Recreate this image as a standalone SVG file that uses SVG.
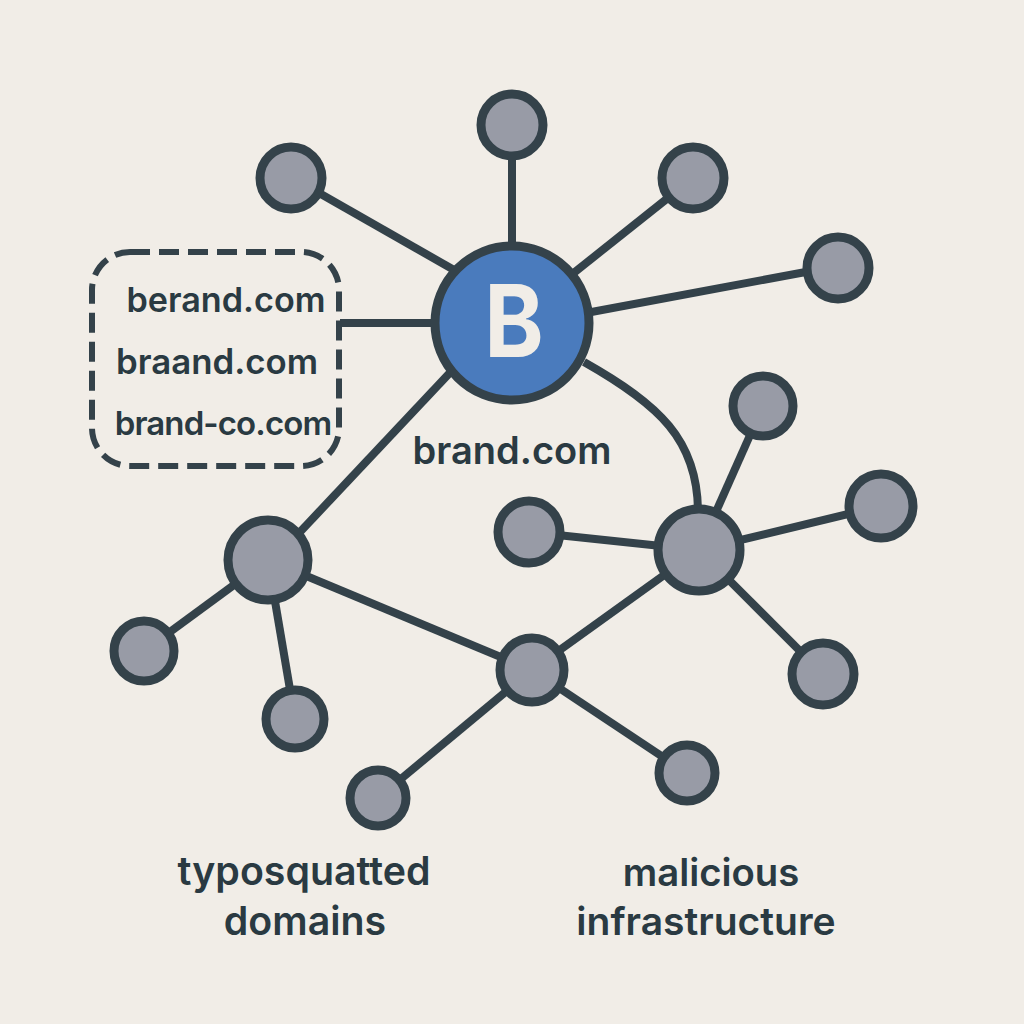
<svg xmlns="http://www.w3.org/2000/svg" width="1024" height="1024" viewBox="0 0 1024 1024">
<style>
.e{fill:none;stroke:#34424a;stroke-width:8}
.n{fill:#989ba6;stroke:#34424a;stroke-width:9}
text{font-family:"Inter","Liberation Sans",sans-serif;font-weight:600;fill:#2a3a42;text-anchor:middle}
.b{font-size:38px}
</style>
<rect width="1024" height="1024" fill="#f1ede7"/>
<g id="connectors">
<path class="e" d="M512 320V125"/>
<path class="e" d="M512 303L291 177"/>
<path class="e" d="M512 322L693 178"/>
<path class="e" d="M570 316L838 266"/>
<path class="e" d="M512 323H340"/>
<path class="e" d="M460 362L268 566"/>
<path class="e" d="M584 362C660 405 697 440 698 510"/>
<path class="e" d="M699 550L763 406"/>
<path class="e" d="M699 550L881 506"/>
<path class="e" d="M699 550L529 532"/>
<path class="e" d="M699 550L823 674"/>
<path class="e" d="M699 550L532 670"/>
<path class="e" d="M268 560L532 670"/>
<path class="e" d="M268 560L144 651"/>
<path class="e" d="M268 560L295 719"/>
<path class="e" d="M532 670L378 798"/>
<path class="e" d="M532 670L687 773"/>
</g>
<g id="typo-box">
<rect x="92" y="252" width="247" height="214" rx="38" fill="#f1ede7" stroke="#34424a" stroke-width="6" stroke-dasharray="20 9"/>
<text x="226" y="312" style="font-size:34.2px">berand.com</text>
<text x="217" y="374" style="font-size:34.8px">braand.com</text>
<text x="223" y="435" style="font-size:33px;letter-spacing:-0.9px">brand-co.com</text>
</g>
<g id="hub"><circle cx="512" cy="323" r="77" fill="#4a7bbd" stroke="#34424a" stroke-width="9"/><text transform="translate(514 357) scale(1 1.11)" style="font-size:90px;font-weight:700;fill:#f1ede7">B</text></g>
<g id="hub-label"><text class="b" x="512" y="464">brand.com</text></g>
<g id="n1"><circle class="n" cx="512" cy="125" r="31"/></g>
<g id="n2"><circle class="n" cx="291" cy="178" r="31"/></g>
<g id="n3"><circle class="n" cx="693" cy="178" r="31"/></g>
<g id="n4"><circle class="n" cx="838" cy="268" r="31"/></g>
<g id="n5"><circle class="n" cx="763" cy="406" r="30"/></g>
<g id="n6"><circle class="n" cx="881" cy="506" r="32"/></g>
<g id="n7"><circle class="n" cx="529" cy="532" r="31"/></g>
<g id="n8"><circle class="n" cx="699" cy="550" r="41"/></g>
<g id="n9"><circle class="n" cx="823" cy="674" r="31"/></g>
<g id="n10"><circle class="n" cx="268" cy="560" r="40"/></g>
<g id="n11"><circle class="n" cx="144" cy="651" r="30"/></g>
<g id="n12"><circle class="n" cx="295" cy="719" r="29"/></g>
<g id="n13"><circle class="n" cx="532" cy="670" r="32"/></g>
<g id="n14"><circle class="n" cx="378" cy="798" r="28"/></g>
<g id="n15"><circle class="n" cx="687" cy="773" r="28"/></g>
<g id="labels">
<text x="304" y="885" style="font-size:39.3px">typosquatted</text>
<text x="305" y="935" style="font-size:39.3px">domains</text>
<text x="711" y="886" style="font-size:38.3px">malicious</text>
<text x="706" y="935" style="font-size:39px">infrastructure</text>
</g>
</svg>
